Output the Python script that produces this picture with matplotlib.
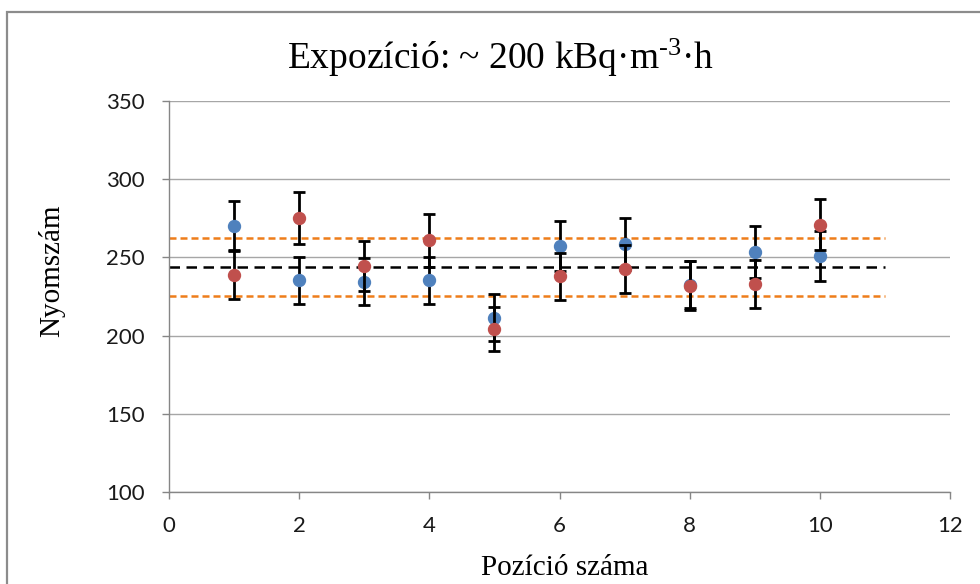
import matplotlib
matplotlib.use("Agg")
import matplotlib.pyplot as plt
from matplotlib.patches import Rectangle

# pozíció / nyomszám adatok
poz = [1, 2, 3, 4, 5, 6, 7, 8, 9, 10]
kek = [270, 235.5, 234.5, 235.5, 211.5, 257, 258.5, 232.5, 253.5, 251]
kek_hiba = [16, 15, 15, 15, 15, 16, 16.5, 15, 16.5, 16]
piros = [239, 275, 244.5, 261, 204, 238, 242.5, 232, 233, 271]
piros_hiba = [15.5, 16.5, 16, 17, 14, 15, 15.5, 15.5, 15.5, 16.5]

atlag = 244
also = 225.5
felso = 262.5
vonal_x = [0, 11]

plt.rcParams['mathtext.default'] = 'regular'
serif = ['Liberation Serif', 'DejaVu Serif']
sans = ['Lato', 'Liberation Sans', 'DejaVu Sans']

fig = plt.figure(figsize=(9.8, 5.84), dpi=100)
fig.patch.set_facecolor('white')

# kulso keret
fig.patches.append(Rectangle((7/980, -0.1), 1.2, 1 - 12/584 + 0.1, transform=fig.transFigure,
                             fill=False, edgecolor='#8c8c8c', linewidth=1.6))

ax = fig.add_axes([169/980, 92/584, 781/980, 391/584])

ax.plot(vonal_x, [felso, felso], color='#ee7d1a', linewidth=1.8, dashes=(2.8, 1.6), zorder=2)
ax.plot(vonal_x, [also, also], color='#ee7d1a', linewidth=1.8, dashes=(2.8, 1.6), zorder=2)
ax.plot(vonal_x, [atlag, atlag], color='black', linewidth=1.8, dashes=(4.2, 2.6), zorder=2)

ax.errorbar(poz, kek, yerr=kek_hiba, fmt='o', color='#4f81bd', markersize=8.6,
            ecolor='black', elinewidth=2.0, capsize=4.2, capthick=2.0, zorder=3)
ax.errorbar(poz, piros, yerr=piros_hiba, fmt='o', color='#c0504d', markersize=8.6,
            ecolor='black', elinewidth=2.0, capsize=4.2, capthick=2.0, zorder=4)

ax.set_xlim(0, 12)
ax.set_ylim(100, 350)
ax.set_xticks(range(0, 13, 2))
ax.set_yticks(range(100, 351, 50))
ax.yaxis.grid(True, color='#a6a6a6', linewidth=1.0)
ax.set_axisbelow(True)
for s in ['top', 'right']:
    ax.spines[s].set_visible(False)
for s in ['left', 'bottom']:
    ax.spines[s].set_color('#868686')
    ax.spines[s].set_linewidth(1.0)
ax.tick_params(axis='both', direction='out', length=5, width=1.0, color='#868686',
               labelsize=16, pad=12.5, labelcolor='#1a1a1a')
for lab in ax.get_xticklabels() + ax.get_yticklabels():
    lab.set_family(sans)

fig.text(501/980, 1 - 69/584, 'Expozíció: ~ 200 kBq·m$^{\u20103}$·h', family=serif,
         fontsize=27, ha='center', va='baseline')
fig.text(52/980, 1 - 271/584, 'Nyomszám', family=serif, fontsize=21,
         rotation=90, ha='center', va='center')
fig.text(565/980, 1 - 575/584, 'Pozíció száma', family=serif, fontsize=21,
         ha='center', va='baseline')

fig.savefig('out.png', dpi=100)
